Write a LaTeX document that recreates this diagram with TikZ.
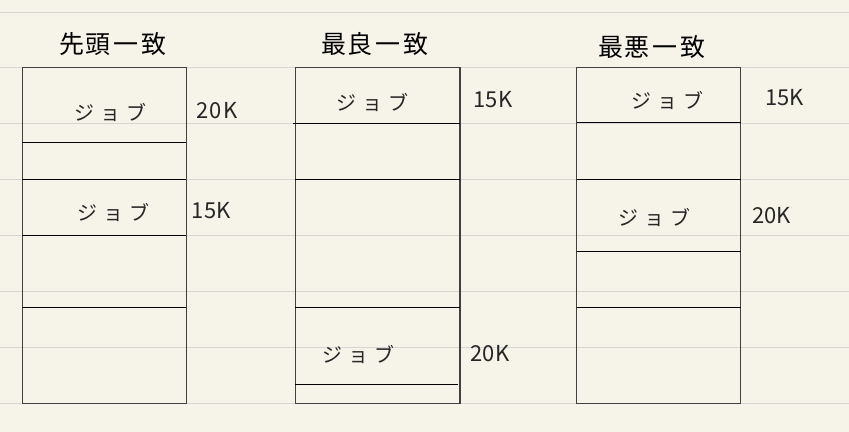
\documentclass[tikz,border=0pt]{standalone}
\usepackage{xcolor}
\usepackage{fontspec}
\newfontfamily\jpfont{Noto Sans CJK JP}
\usepackage{tikz}
\usetikzlibrary{positioning}
\definecolor{paper}{HTML}{F6F4E8}
\definecolor{ruleline}{HTML}{D6D6D2}
\tikzset{
	memblock/.style={draw=black!75, line width=1.1pt},
	divider/.style={draw=black, line width=0.9pt}
}
\tikzset{
	title/.style={font=\jpfont\fontsize{25}{25}\selectfont, inner sep=0pt}
}
\tikzset{
	job/.style={font=\jpfont\fontsize{20}{20}\selectfont, inner sep=0pt, black!85},
	jobsize/.style={font=\jpfont\fontsize{22}{22}\selectfont, inner sep=0pt, black!85}
}
\begin{document}
\begin{tikzpicture}[x=1pt, y=-1pt]

		% notebook paper
		\fill[paper] (0,0) rectangle (849,432);
		\foreach \yy in {12,68,124,180,236,292,348,404}
			\draw[ruleline, line width=0.9pt] (0,\yy) -- (849,\yy);

		\newcommand{\blocktop}{68}
		\newcommand{\blockbottom}{404}

		% first fit
		\node[title] (firsttitle) at (113,44) {先\kern1pt 頭\kern3pt 一\kern3pt 致};
		\draw[memblock] (22,\blocktop) rectangle (186,\blockbottom);
		\draw[divider] (22,143) -- (186,143);
		\draw[divider] (22,180) -- (186,180);
		\draw[divider] (22,236) -- (186,236);
		\draw[divider] (22,308) -- (186,308);
		\node[job] (firstjoba) at (110,113) {ジ\kern6pt ョ\kern6pt ブ};
		\node[jobsize] (firstsizea) at (217,111) {20\kern2pt K};
		\node[job] (firstjobb) at (113,213) {ジ\kern6pt ョ\kern6pt ブ};
		\node[jobsize] (firstsizeb) at (211,211) {15K};

		% best fit
		\node[title] (besttitle) at (375,44) {最\kern1pt 良\kern3pt 一\kern3pt 致};
		\draw[memblock] (295,\blocktop) rectangle (460,\blockbottom);
		\draw[divider] (293,124) -- (460,124);
		\draw[divider] (295,180) -- (460,180);
		\draw[divider] (295,308) -- (460,308);
		\draw[divider] (295,385) -- (458,385);
		\node[job] (bestjoba) at (372,103) {ジ\kern6pt ョ\kern6pt ブ};
		\node[jobsize] (bestsizea) at (493,100) {15K};
		\node[job] (bestjobb) at (358,355) {ジ\kern6pt ョ\kern6pt ブ};
		\node[jobsize] (bestsizeb) at (490,354) {20K};

		% worst fit
		\node[title] (worsttitle) at (652,47) {最\kern1pt 悪\kern3pt 一\kern3pt 致};
		\draw[memblock] (577,\blocktop) rectangle (741,\blockbottom);
		\draw[divider] (577,123) -- (741,123);
		\draw[divider] (577,180) -- (741,180);
		\draw[divider] (577,252) -- (741,252);
		\draw[divider] (577,308) -- (741,308);
		\node[job] (worstjoba) at (668,101) {ジ\kern6pt ョ\kern6pt ブ};
		\node[jobsize] (worstsizea) at (785,98) {15K};
		\node[job] (worstjobb) at (655,218) {ジ\kern6pt ョ\kern6pt ブ};
		\node[jobsize] (worstsizeb) at (772,216) {20K};

	\end{tikzpicture}
\end{document}
